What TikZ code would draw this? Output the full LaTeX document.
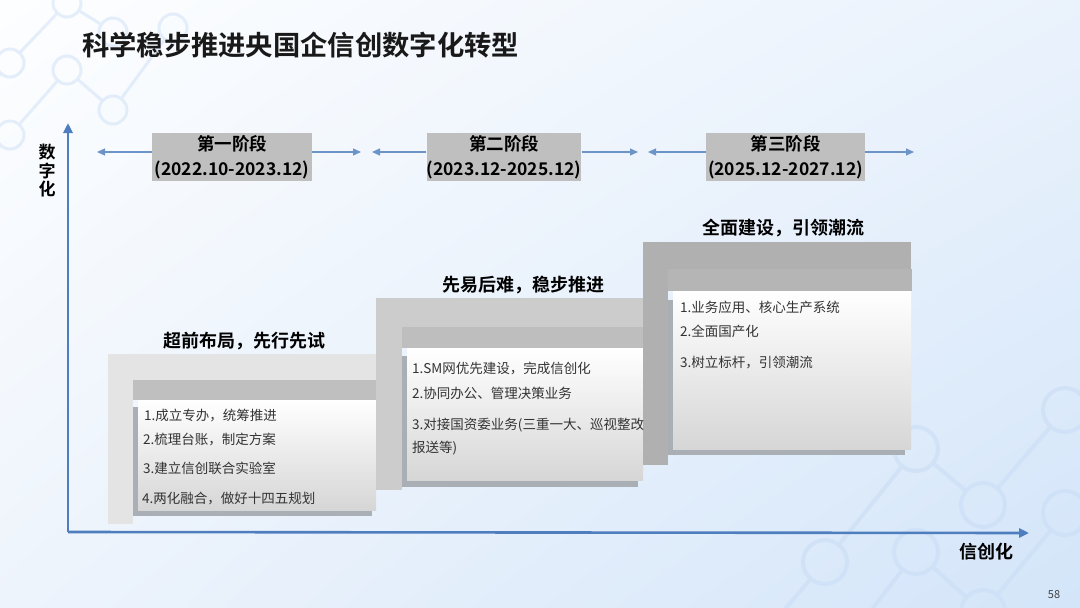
\documentclass[tikz,border=0pt]{standalone}
\usepackage{fontspec}
\setmainfont{Noto Sans CJK SC}[BoldFont={Noto Sans CJK SC Bold}]
\usetikzlibrary{arrows.meta,shadings}
\definecolor{axisblue}{HTML}{4F7EBF}
\definecolor{arrowblue}{HTML}{6C94C9}
\definecolor{phasegray}{HTML}{BFBFBF}
\definecolor{souter1}{HTML}{E4E4E4}
\definecolor{sband1}{HTML}{BFBFBF}
\definecolor{souter2}{HTML}{CCCCCC}
\definecolor{sband2}{HTML}{BEBEBE}
\definecolor{souter3}{HTML}{B0B0B0}
\definecolor{sband3}{HTML}{B5B5B5}
\definecolor{shadowc}{HTML}{AAAFB6}
\definecolor{boxbottom}{HTML}{D6D6D6}
\definecolor{itemtext}{HTML}{333333}
\definecolor{decoc}{HTML}{C9DDF6}
\definecolor{bgul}{HTML}{FDFEFF}
\definecolor{bgur}{HTML}{EAF2FC}
\definecolor{bgll}{HTML}{EEF4FC}
\definecolor{bglr}{HTML}{D3E5F9}
\begin{document}
\begin{tikzpicture}[x=1pt,y=-1pt,
  deco/.style={circle, draw=decoc, line width=3pt, inner sep=0pt, minimum size=#1},
  decoline/.style={draw=decoc, line width=3pt},
  phasebox/.style={fill=phasegray, inner sep=0pt, minimum height=48pt, align=center,
    font=\bfseries\fontsize{17.5}{25}\selectfont},
  phasearrow/.style={draw=arrowblue, line width=1.1pt, -{Triangle[length=8pt,width=7pt]}},
  axisline/.style={draw=axisblue, line width=2.6pt, -{Triangle[length=10pt,width=9pt]}},
  heading/.style={font=\bfseries\fontsize{18}{22}\selectfont, text=black},
  item/.style={anchor=west, inner sep=0pt, font=\fontsize{13.5}{23}\selectfont, text=itemtext, align=left},
  whitebox/.style={top color=white, bottom color=boxbottom}
]
\useasboundingbox (0,0) rectangle (1080,608);
% background
\shade[upper left=bgul, upper right=bgur, lower left=bgll, lower right=bglr] (0,0) rectangle (1080,608);
% decoration top-left
\begin{scope}[opacity=0.45]
\node[deco=28pt] (d1) at (67,3) {};
\node[deco=28pt] (d2) at (113,32) {};
\node[deco=28pt] (d3) at (173,28) {};
\node[deco=28pt] (d4) at (10,63) {};
\node[deco=28pt] (d5) at (67,70) {};
\node[deco=28pt] (d6) at (113,110) {};
\node[deco=28pt] (d7) at (10,135) {};
\coordinate (e1) at (-30,110);
\coordinate (e2) at (-30,180);
\draw[decoline] (d4) -- (d1);
\draw[decoline] (d1) -- (d2);
\draw[decoline] (d7) -- (d5);
\draw[decoline] (d5) -- (d6);
\draw[decoline] (d6) -- (d3);
\draw[decoline] (d4) -- (e1);
\draw[decoline] (d7) -- (e2);
\end{scope}
% decoration bottom-right
\begin{scope}[opacity=0.55]
\node[deco=44pt, line width=4pt] (r1) at (916,449) {};
\node[deco=44pt, line width=4pt] (r2) at (983,505) {};
\node[deco=44pt, line width=4pt] (r3) at (1065,410) {};
\node[deco=44pt, line width=4pt] (r4) at (1065,513) {};
\node[deco=44pt, line width=4pt] (r5) at (916,552) {};
\node[deco=44pt, line width=4pt] (r6) at (825,562) {};
\node[deco=44pt, line width=4pt] (r7) at (983,612) {};
\coordinate (f1) at (1110,360);
\coordinate (f2) at (870,612);
\coordinate (f3) at (780,615);
\draw[decoline, line width=4pt] (r1) -- (r2);
\draw[decoline, line width=4pt] (r2) -- (r3);
\draw[decoline, line width=4pt] (r6) -- (r1);
\draw[decoline, line width=4pt] (r3) -- (f1);
\draw[decoline, line width=4pt] (r5) -- (r7);
\draw[decoline, line width=4pt] (r7) -- (r4);
\draw[decoline, line width=4pt] (r5) -- (f2);
\draw[decoline, line width=4pt] (r6) -- (f3);
\end{scope}
% title
\node[anchor=west, inner sep=0pt, font=\bfseries\fontsize{27.3}{30}\selectfont, text=black!90] (title) at (82,45) {科学稳步推进央国企信创数字化转型};
% axes
\coordinate (O) at (68,532);
\coordinate (ytip) at (68,123);
\coordinate (xtip) at (1029,533);
\draw[axisline] (O) -- (ytip);
\draw[axisline] (O) -- (xtip);
\node[align=center, inner sep=0pt, font=\bfseries\fontsize{17}{18.5}\selectfont] (ylab) at (47,171) {数\\字\\化};
\node[inner sep=0pt, font=\bfseries\fontsize{18}{22}\selectfont] (xlab) at (986,552) {信创化};
% phase boxes
\node[phasebox, minimum width=160pt] (p1) at (232,157) {第一阶段\\(2022.10-2023.12)};
\node[phasebox, minimum width=154pt] (p2) at (504,157) {第二阶段\\(2023.12-2025.12)};
\node[phasebox, minimum width=159pt] (p3) at (785.5,157) {第三阶段\\(2025.12-2027.12)};
\coordinate (p1l) at (97,152);
\coordinate (p1r) at (361,152);
\coordinate (p2l) at (372,152);
\coordinate (p2r) at (638,152);
\coordinate (p3l) at (648,152);
\coordinate (p3r) at (914,152);
\draw[phasearrow] (p1.west |- p1l) -- (p1l);
\draw[phasearrow] (p1.east |- p1r) -- (p1r);
\draw[phasearrow] (p2.west |- p2l) -- (p2l);
\draw[phasearrow] (p2.east |- p2r) -- (p2r);
\draw[phasearrow] (p3.west |- p3l) -- (p3l);
\draw[phasearrow] (p3.east |- p3r) -- (p3r);
% step 1
\fill[souter1] (108,354) rectangle (376,380);
\fill[souter1] (108,380) rectangle (133,524);
\fill[sband1] (133,380) rectangle (376,400);
\fill[shadowc] (133,407) rectangle (372,516);
\shade[whitebox] (138,400) rectangle (376,510);
% step 2
\fill[souter2] (376,298) rectangle (643,327);
\fill[souter2] (376,327) rectangle (402,490);
\fill[sband2] (402,327) rectangle (643,348);
\fill[shadowc] (402,356) rectangle (638,487);
\shade[whitebox] (407,348) rectangle (643,480);
% step 3
\fill[souter3] (643,242) rectangle (911,269);
\fill[souter3] (643,269) rectangle (668,465);
\fill[sband3] (668,269) rectangle (912,291);
\fill[shadowc] (668,300) rectangle (905,455);
\shade[whitebox] (673,291) rectangle (911,449);
% headings
\node[heading] (h1) at (244,341) {超前布局，先行先试};
\node[heading] (h2) at (523,285) {先易后难，稳步推进};
\node[heading] (h3) at (783,228) {全面建设，引领潮流};
% items step 1
\node[item] (a1) at (144,416) {1.成立专办，统筹推进};
\node[item] (a2) at (143,440) {2.梳理台账，制定方案};
\node[item] (a3) at (143,468) {3.建立信创联合实验室};
\node[item] (a4) at (142,499) {4.两化融合，做好十四五规划};
% items step 2
\node[item] (b1) at (412,368) {1.SM网优先建设，完成信创化};
\node[item] (b2) at (412,393) {2.协同办公、管理决策业务};
\node[item, anchor=north west] (b3) at (412,418) {3.对接国资委业务(三重一大、巡视整改\\报送等)};
% items step 3
\node[item] (c1) at (680,307) {1.业务应用、核心生产系统};
\node[item] (c2) at (680,331) {2.全面国产化};
\node[item] (c3) at (680,363) {3.树立标杆，引领潮流};
% page number
\node[inner sep=0pt, font=\fontsize{11}{13}\selectfont, text=black!75] (pg) at (1054,595) {58};
\end{tikzpicture}
\end{document}
